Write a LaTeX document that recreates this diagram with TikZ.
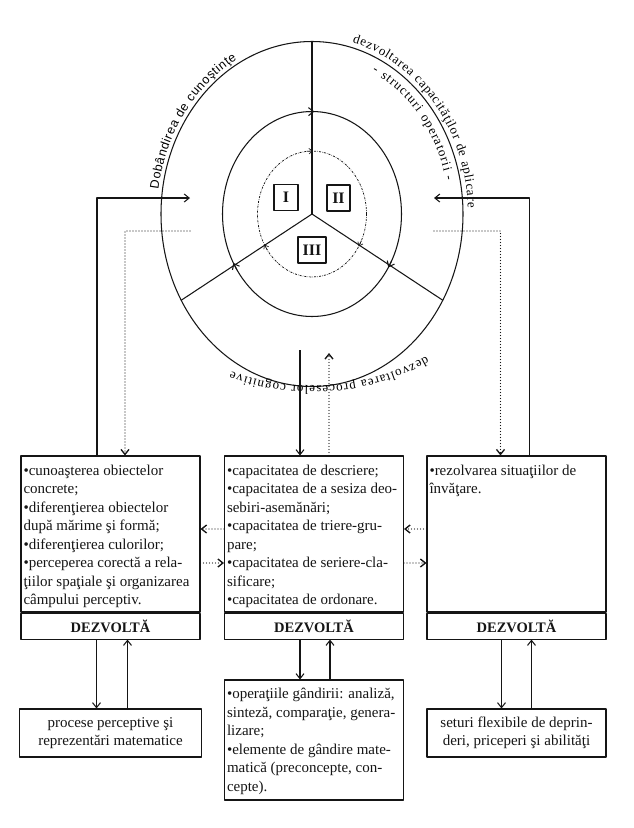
\documentclass[tikz,border=0pt]{standalone}
\usepackage{fontspec}
\setmainfont{Liberation Serif}
\newfontfamily\arcsans{Liberation Sans}
\usetikzlibrary{arrows.meta, calc, decorations.text}
\definecolor{papercolor}{HTML}{FFFFFF}
\definecolor{inkcolor}{HTML}{151515}

\begin{document}
\begin{tikzpicture}[
    x=1pt, y=-1pt,
    line width=1.05pt,
    line join=round,
    color=inkcolor,
    barb/.style={-{Straight Barb[length=5pt, width=8pt]}},
    smallbarb/.style={-{Straight Barb[length=3.5pt, width=5.5pt]}},
    dotarr/.style={barb, line cap=round, dash pattern=on 0pt off 3pt, line width=1.35pt},
    textbox/.style={draw, rectangle, inner sep=2.5pt, font=\fontsize{15}{18.5}\selectfont},
    devbox/.style={draw, rectangle, anchor=north, minimum width=179pt, minimum height=26pt, inner sep=0pt, font=\bfseries\fontsize{14.5}{14.5}\selectfont},
    romanbox/.style={draw, rectangle, line width=1.4pt, minimum height=26pt, inner sep=0pt, font=\bfseries\fontsize{16}{16}\selectfont},
    arctext/.style={decorate, decoration={text along path, text align={fit to path}, text={#1}}}
]

    % Paper
    \fill[papercolor] (0,0) rectangle (633,828);

    % Rings: outer, middle and dashed inner
    \coordinate (hub) at (312,214);
    \draw (hub) ellipse [x radius=151, y radius=172.5];
    \draw (hub) ellipse [x radius=89.5, y radius=102.5];
    \draw[line width=0.75pt, dash pattern=on 2pt off 1.2pt on 0.5pt off 1.2pt] (hub) ellipse [x radius=54.5, y radius=63];

    % Spokes
    \draw (hub) -- ($(hub)+(270:151 and 172.5)$);
    \draw (hub) -- ($(hub)+(150:151 and 172.5)$);
    \draw (hub) -- ($(hub)+(30:151 and 172.5)$);

    % Flow marks where the spokes cross the rings
    \foreach \t in {30,150,270} {
        \draw[barb] ($(hub)+(\t-3:89.5 and 102.5)$) -- ($(hub)+(\t+1.5:89.5 and 102.5)$);
        \draw[smallbarb, line width=0.65pt] ($(hub)+(\t-5:54.5 and 63)$) -- ($(hub)+(\t+1:54.5 and 63)$);
    }

    % Regions
    \node[romanbox, minimum width=24pt] (regI) at (286,197.5) {I};
    \node[romanbox, minimum width=23pt] (regII) at (338.5,198) {II};
    \node[romanbox, minimum width=28pt] (regIII) at (312,250) {III};

    % Ring labels
    \path[arctext={|\arcsans\fontsize{12.5}{12.5}\selectfont|Dobândirea de cunoştinţe}]
        ($(hub)+(188:155 and 176.5)$) arc[start angle=188, end angle=241, x radius=155, y radius=176.5];
    \path[arctext={|\fontsize{13}{13}\selectfont|dezvoltarea capacităţilor de aplicare}]
        ($(hub)+(285:156 and 177.5)$) arc[start angle=285, end angle=358, x radius=156, y radius=177.5];
    \path[arctext={|\fontsize{13}{13}\selectfont|- structuri operatorii -}]
        ($(hub)+(296:137 and 158)$) arc[start angle=296, end angle=348, x radius=137, y radius=158];
    \coordinate (lowc) at (312,150);
    \path[arctext={|\fontsize{13}{13}\selectfont|dezvoltarea proceselor cognitive}]
        ($(lowc)+(61:236)$) arc[start angle=61, end angle=110, radius=236];

    % Upper boxes
    \node[textbox] (perc) at (110.5,534) {\parbox[c][151pt][t]{174pt}{\raggedright\rule{0pt}{16.5pt}\textbullet cunoaşterea obiectelor\\concrete;\\\textbullet diferenţierea obiectelor\\după mărime şi formă;\\\textbullet diferenţierea culorilor;\\\textbullet perceperea corectă a rela-\\ţiilor spaţiale şi organizarea\\câmpului perceptiv.}};
    \node[devbox] (devL) at (perc.south) {DEZVOLTĂ};

    \node[textbox] (capac) at (314,534) {\parbox[c][151pt][t]{174pt}{\raggedright\rule{0pt}{16.5pt}\textbullet capacitatea de descriere;\\\textbullet capacitatea de a sesiza deo-\\sebiri-asemănări;\\\textbullet capacitatea de triere-gru-\\pare;\\\textbullet capacitatea de seriere-cla-\\sificare;\\\textbullet capacitatea de ordonare.}};
    \node[devbox] (devM) at (capac.south) {DEZVOLTĂ};

    \node[textbox] (situ) at (516.5,534) {\parbox[c][151pt][t]{174pt}{\raggedright\rule{0pt}{16.5pt}\textbullet rezolvarea situaţiilor de\\învăţare.}};
    \node[devbox] (devR) at (situ.south) {DEZVOLTĂ};

    % Lower boxes
    \node[textbox, minimum width=182pt, minimum height=48pt, align=center] (procese) at (110.5,733) {procese perceptive şi\\reprezentări matematice};
    \node[textbox] (operatii) at (314,740) {\parbox[c][115pt][t]{174pt}{\raggedright\rule{0pt}{16pt}\textbullet operaţiile gândirii: analiză,\\sinteză, comparaţie, genera-\\lizare;\\\textbullet elemente de gândire mate-\\matică (preconcepte, con-\\cepte).}};
    \node[textbox, minimum width=179pt, minimum height=48pt, align=center] (seturi) at (516.5,733) {seturi flexibile de deprin-\\deri, priceperi şi abilităţi};

    % Links between rings and boxes
    \coordinate (inL) at (190,198);
    \coordinate (outL) at (190,231);
    \coordinate (inR) at (434,198);
    \coordinate (outR) at (434,231);
    \coordinate (inM) at (300,350);
    \coordinate (outM) at (329,353);
    \draw[barb] ([xshift=-13.5pt]perc.north) |- (inL);
    \draw[dotarr] (outL) -| ([xshift=14.5pt]perc.north);
    \draw[barb] ([xshift=13pt]situ.north) |- (inR);
    \draw[dotarr] (outR) -| ([xshift=-16pt]situ.north);
    \draw[barb] (inM) -- (inM |- capac.north);
    \draw[dotarr] (capac.north -| outM) -- (outM);

    % Links between the upper boxes
    \draw[dotarr] ([yshift=5pt]capac.west) -- ([yshift=5pt]perc.east);
    \draw[dotarr] ([yshift=5pt]situ.west) -- ([yshift=5pt]capac.east);
    \draw[dotarr] ([yshift=-29pt]perc.east) -- ([yshift=-29pt]capac.west);
    \draw[dotarr] ([yshift=-29pt]capac.east) -- ([yshift=-29pt]situ.west);

    % DEZVOLTA <-> lower boxes
    \draw[barb] ([xshift=-14pt]devL.south) -- ([xshift=-14pt]procese.north);
    \draw[barb] ([xshift=17pt]procese.north) -- ([xshift=17pt]devL.south);
    \draw[barb] ([xshift=-14pt]devM.south) -- ([xshift=-14pt]operatii.north);
    \draw[barb] ([xshift=16pt]operatii.north) -- ([xshift=16pt]devM.south);
    \draw[barb] ([xshift=-15pt]devR.south) -- ([xshift=-15pt]seturi.north);
    \draw[barb] ([xshift=15pt]seturi.north) -- ([xshift=15pt]devR.south);

\end{tikzpicture}
\end{document}
